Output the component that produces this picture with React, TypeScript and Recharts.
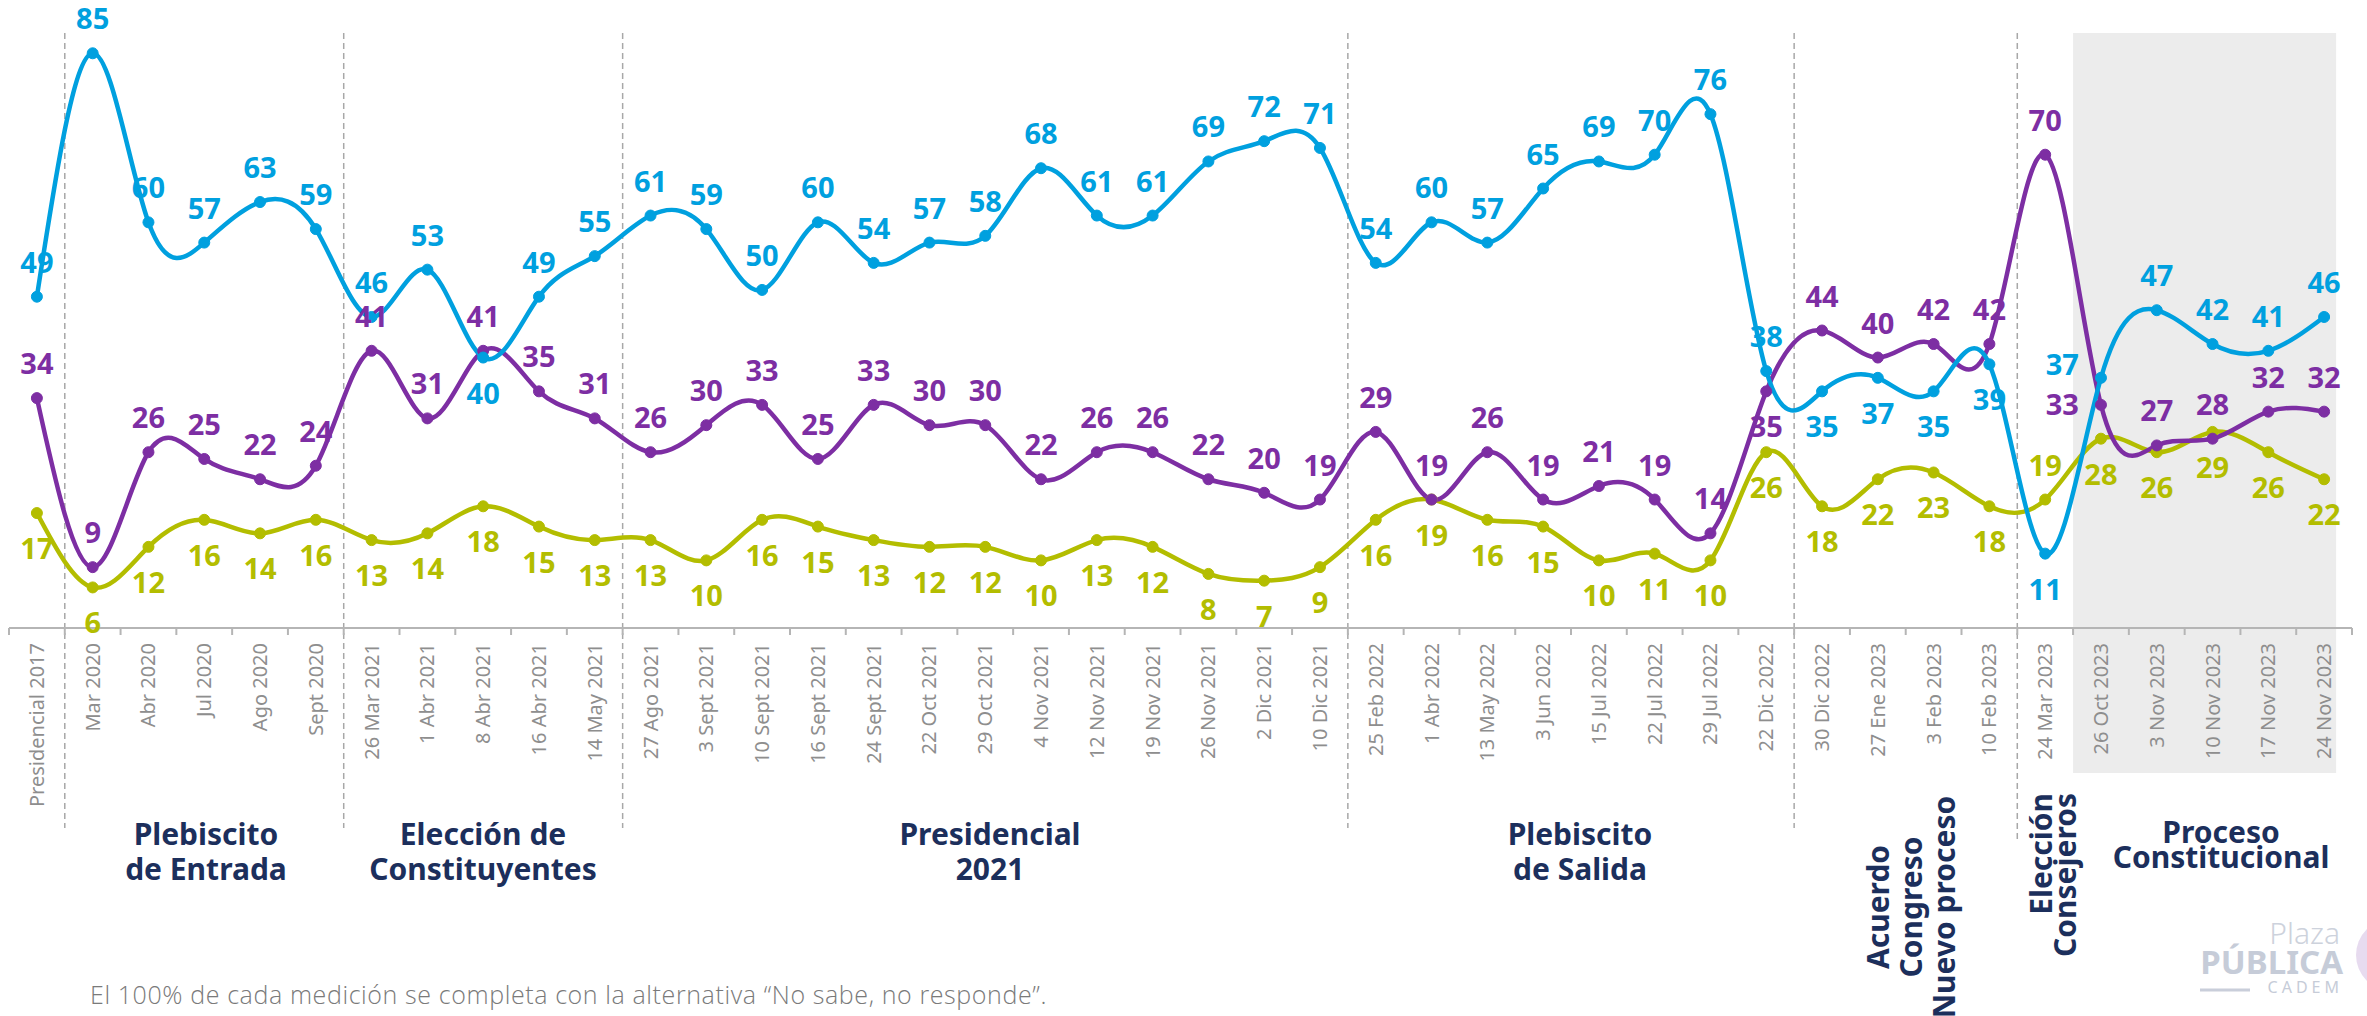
import React from "react"
import { ComposedChart, Line, XAxis, YAxis, ReferenceLine, ReferenceArea, LabelList } from "recharts"

const categories = [
  "Presidencial 2017", "Mar 2020", "Abr 2020", "Jul 2020", "Ago 2020", "Sept 2020",
  "26 Mar 2021", "1 Abr 2021", "8 Abr 2021", "16 Abr 2021", "14 May 2021",
  "27 Ago 2021", "3 Sept 2021", "10 Sept 2021", "16 Sept 2021", "24 Sept 2021",
  "22 Oct 2021", "29 Oct 2021", "4 Nov 2021", "12 Nov 2021", "19 Nov 2021",
  "26 Nov 2021", "2 Dic 2021", "10 Dic 2021",
  "25 Feb 2022", "1 Abr 2022", "13 May 2022", "3 Jun 2022", "15 Jul 2022",
  "22 Jul 2022", "29 Jul 2022", "22 Dic 2022",
  "30 Dic 2022", "27 Ene 2023", "3 Feb 2023", "10 Feb 2023",
  "24 Mar 2023",
  "26 Oct 2023", "3 Nov 2023", "10 Nov 2023", "17 Nov 2023", "24 Nov 2023",
]

const blueValues = [49, 85, 60, 57, 63, 59, 46, 53, 40, 49, 55, 61, 59, 50, 60, 54, 57, 58, 68, 61, 61, 69, 72, 71, 54, 60, 57, 65, 69, 70, 76, 38, 35, 37, 35, 39, 11, 37, 47, 42, 41, 46]
const purpleValues = [34, 9, 26, 25, 22, 24, 41, 31, 41, 35, 31, 26, 30, 33, 25, 33, 30, 30, 22, 26, 26, 22, 20, 19, 29, 19, 26, 19, 21, 19, 14, 35, 44, 40, 42, 42, 70, 33, 27, 28, 32, 32]
const yellowValues = [17, 6, 12, 16, 14, 16, 13, 14, 18, 15, 13, 13, 10, 16, 15, 13, 12, 12, 10, 13, 12, 8, 7, 9, 16, 19, 16, 15, 10, 11, 10, 26, 18, 22, 23, 18, 19, 28, 26, 29, 26, 22]

// where each value label sits: t = above, b = below, u / l = left of the point
const blueSides = "ttttttttbtttttttttttttttttttttttbbbbbutttt".split("")
const purpleSides = "tttttttttttttttttttttttttttttttbtttttltttt".split("")
const yellowSides = "bbbbbbbbbbbbbbbbbbbbbbbbbbbbbbbbbbbbtbbbbb".split("")

// section separators (dashed line before these categories)
const separators = ["Mar 2020", "26 Mar 2021", "27 Ago 2021", "25 Feb 2022", "30 Dic 2022", "24 Mar 2023"]

const BLUE = "#00a0df"
const PURPLE = "#7d2ea3"
const OLIVE = "#b3bd00"
const NAVY = "#1c2f5c"
const FONT = "'Noto Sans', sans-serif"

const W = 2367
const H = 1016
const M = { top: 33, right: 15, left: 9, bottom: 238 }
const BAND = (W - M.left - M.right) / categories.length

const data = categories.map((c, i) => ({
  cat: c,
  blue: blueValues[i],
  purple: purpleValues[i],
  yellow: yellowValues[i],
}))

const makeLabel = (sides: string[], color: string) => (props: any) => {
  const x = props.x ?? props.viewBox?.x
  const y = props.y ?? props.viewBox?.y
  const side = sides[props.index]
  let tx = x
  let ty = y - 24
  let anchor = "middle"
  if (side === "b") ty = y + 46
  if (side === "u") { tx = x - 22; ty = y - 3; anchor = "end" }
  if (side === "l") { tx = x - 22; ty = y + 10; anchor = "end" }
  return (
    <text x={tx} y={ty} textAnchor={anchor} fill={color} fontSize={29} fontWeight={700} fontFamily={FONT}>
      {props.value}
    </text>
  )
}

const CatTick = (props: any) => {
  const { x, y, payload, index } = props
  return (
    <g>
      <line x1={x - BAND / 2} x2={x - BAND / 2} y1={y} y2={y + 7} stroke="#b5b5b5" strokeWidth={2} />
      {index === categories.length - 1 && (
        <line x1={x + BAND / 2} x2={x + BAND / 2} y1={y} y2={y + 7} stroke="#b5b5b5" strokeWidth={2} />
      )}
      <text
        transform={`translate(${x + 7},${y + 15}) rotate(-90)`}
        textAnchor="end"
        fill="#8e8e8e"
        fontSize={20}
        fontFamily={FONT}
      >
        {payload.value}
      </text>
    </g>
  )
}

// dashed separator sits half a band before the category point
const dashTo = (bottom: number) => (p: any) => (
  <line
    x1={p.x1 - BAND / 2}
    x2={p.x2 - BAND / 2}
    y1={Math.min(p.y1, p.y2)}
    y2={bottom}
    stroke="#a8a8a8"
    strokeWidth={1.5}
    strokeDasharray="6 4"
  />
)

const greyBand = (p: any) => (
  <rect x={p.x - BAND / 2} y={p.y} width={p.width + BAND / 2 + 12} height={773 - p.y} fill="#ececec" />
)

const sectionStyle = { fill: NAVY, fontSize: 30, fontWeight: 700, fontFamily: FONT } as const

export default function App() {
  return (
    <div style={{ position: "absolute", left: 0, top: 0, width: W, height: H, background: "#fff" }}>
      <ComposedChart width={W} height={H} data={data} margin={M}>
        <ReferenceArea x1="26 Oct 2023" x2="24 Nov 2023" shape={greyBand} ifOverflow="visible" />
        {separators.map((s, i) => (
          <ReferenceLine
            key={s}
            x={s}
            ifOverflow="visible"
            shape={dashTo(i === separators.length - 1 ? 843 : 828)}
          />
        ))}
        <XAxis
          dataKey="cat"
          interval={0}
          tickSize={0}
          tickMargin={0}
          height={150}
          padding={{ left: BAND / 2, right: BAND / 2 }}
          axisLine={{ stroke: "#b5b5b5", strokeWidth: 2 }}
          tick={<CatTick />}
        />
        <YAxis hide domain={[0, 88]} width={0} />
        <Line type="natural" dataKey="yellow" stroke={OLIVE} strokeWidth={4.5} dot={{ r: 5.5, fill: OLIVE, stroke: OLIVE, strokeWidth: 1 }} isAnimationActive={false}>
          <LabelList dataKey="yellow" content={makeLabel(yellowSides, OLIVE)} />
        </Line>
        <Line type="natural" dataKey="purple" stroke={PURPLE} strokeWidth={4.5} dot={{ r: 5.5, fill: PURPLE, stroke: PURPLE, strokeWidth: 1 }} isAnimationActive={false}>
          <LabelList dataKey="purple" content={makeLabel(purpleSides, PURPLE)} />
        </Line>
        <Line type="natural" dataKey="blue" stroke={BLUE} strokeWidth={4.5} dot={{ r: 5.5, fill: BLUE, stroke: BLUE, strokeWidth: 1 }} isAnimationActive={false}>
          <LabelList dataKey="blue" content={makeLabel(blueSides, BLUE)} />
        </Line>
      </ComposedChart>

      <svg width={W} height={H} style={{ position: "absolute", left: 0, top: 0, pointerEvents: "none" }}>
        <g textAnchor="middle" {...sectionStyle}>
          <text x={206} y={845}>Plebiscito</text>
          <text x={206} y={880}>de Entrada</text>
          <text x={483} y={845}>Elección de</text>
          <text x={483} y={880}>Constituyentes</text>
          <text x={990} y={845}>Presidencial</text>
          <text x={990} y={880}>2021</text>
          <text x={1580} y={845}>Plebiscito</text>
          <text x={1580} y={880}>de Salida</text>
          <text x={2221} y={843}>Proceso</text>
          <text x={2221} y={868}>Constitucional</text>
          <text transform="translate(1889,907) rotate(-90)">Acuerdo</text>
          <text transform="translate(1922,907) rotate(-90)">Congreso</text>
          <text transform="translate(1955,907) rotate(-90)">Nuevo proceso</text>
        </g>
        <g textAnchor="end" {...sectionStyle}>
          <text transform="translate(2052,793) rotate(-90)">Elección</text>
          <text transform="translate(2076,793) rotate(-90)">Consejeros</text>
        </g>
        <text x={90} y={1004} fill="#7a7a7a" fontSize={25} fontWeight={300} letterSpacing={0.6} fontFamily="'Open Sans', sans-serif">
          El 100% de cada medición se completa con la alternativa “No sabe, no responde”.
        </text>
        <circle cx={2392} cy={955} r={36} fill="#e7dbef" />
        <circle cx={2400} cy={955} r={28} fill="#d2eff8" />
        <text x={2340} y={944} textAnchor="end" fill="#cdd2dc" fontSize={30} fontWeight={300} fontFamily={FONT}>Plaza</text>
        <text x={2343} y={974} textAnchor="end" fill="#c6ccd8" fontSize={33} fontWeight={700} fontFamily={FONT}>PÚBLICA</text>
        <text x={2343} y={993} textAnchor="end" fill="#c6ccd8" fontSize={16} letterSpacing={4} fontFamily={FONT}>CADEM</text>
        <line x1={2200} x2={2250} y1={990} y2={990} stroke="#c9ceda" strokeWidth={3} />
      </svg>
    </div>
  )
}
